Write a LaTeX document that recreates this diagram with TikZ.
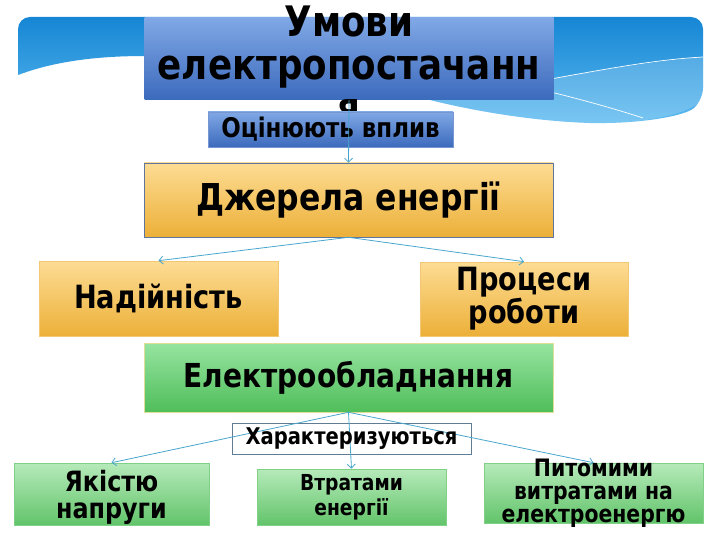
\documentclass[tikz,border=0pt]{standalone}
\usepackage{fontspec}
\setmainfont{DejaVu Sans}[FakeStretch=0.85]
\usetikzlibrary{arrows.meta}

\definecolor{bannertop}{RGB}{22,134,212}
\definecolor{bannerbot}{RGB}{92,186,240}
\definecolor{bluetop}{RGB}{128,168,230}
\definecolor{bluebot}{RGB}{60,106,188}
\definecolor{orangetop}{RGB}{253,220,148}
\definecolor{orangebot}{RGB}{236,176,56}
\definecolor{greentop}{RGB}{150,228,160}
\definecolor{greenbot}{RGB}{80,190,90}
\definecolor{lgreentop}{RGB}{182,234,186}
\definecolor{lgreenbot}{RGB}{98,196,106}
\definecolor{linkblue}{RGB}{72,166,204}
\definecolor{framegray}{RGB}{96,124,146}

\newcommand{\boxfont}[2]{\bfseries\fontsize{#1}{#2}\selectfont}

\begin{document}
\begin{tikzpicture}[x=1pt, y=-1pt,
    box/.style={rectangle, inner sep=0pt, align=center},
    bluebox/.style={box, top color=bluetop, bottom color=bluebot},
    orangebox/.style={box, top color=orangetop, bottom color=orangebot, draw=orangebot!70!white, line width=.6pt},
    greenbox/.style={box, top color=greentop, bottom color=greenbot, draw=orangetop!70!greentop, line width=.6pt},
    lgreenbox/.style={box, top color=lgreentop, bottom color=lgreenbot, draw=lgreenbot!80!white, line width=.6pt},
    link/.style={draw=linkblue, line width=.8pt, -{Straight Barb[length=4pt,width=8pt]}},
  ]
    \useasboundingbox (0,0) rectangle (720,540);

    % banner
    \path[shade, top color=bannertop, bottom color=bannerbot]
    (18,75) {[rounded corners=12pt] -- (18,17) -- (703,17) -- (703,100)}
    .. controls (685,116) and (640,124) .. (590,123)
    .. controls (530,121) and (470,110) .. (430,100)
    .. controls (330,75) and (220,56) .. (145,56)
    .. controls (90,56) and (50,63) .. (18,75) -- cycle;
    \path[fill=white, opacity=.18]
    (430,100) .. controls (480,92) and (620,64) .. (703,57) -- (703,100)
    .. controls (685,116) and (640,124) .. (590,123)
    .. controls (530,121) and (470,110) .. (430,100) -- cycle;
    \draw[white, line width=.7pt] (480,92) .. controls (600,70) and (650,60) .. (703,57);
    \draw[white, line width=.7pt] (470,74) .. controls (540,88) and (600,104) .. (643,118);

    % title
    \node[bluebox, minimum width=409, minimum height=82] (title) at (349,59) {};
    \node[box, font=\boxfont{42}{43}] (titletext) at (349,64) {Умови\\електропостачанн\\я};
    \node[bluebox, draw=bluebot!70!white, line width=.6pt, minimum width=245, minimum height=35,
      font=\boxfont{27}{27}] (assess) at (330.5,129.5) {Оцінюють вплив};

    % energy sources
    \node[orangebox, draw=bluebot!50!gray, minimum width=409, minimum height=74,
      font=\boxfont{37}{37}] (sources) at (348.5,200) {Джерела енергії};
    \node[orangebox, minimum width=239, minimum height=75,
      font=\boxfont{32}{32}] (reliab) at (158.5,298.5) {Надійність};
    \node[orangebox, minimum width=208, minimum height=74,
      font=\boxfont{32}{30}] (process) at (524,299) {Процеси\\роботи};

    % equipment
    \node[greenbox, minimum width=409, minimum height=69,
      font=\boxfont{33}{33}] (equip) at (348.5,377.5) {Електрообладнання};
    \node[box, fill=white, draw=framegray, line width=.6pt, minimum width=239, minimum height=31]
      (charact) at (351.5,438.5) {};
    \node[lgreenbox, minimum width=195, minimum height=62] (quality) at (111.5,494) {};
    \node[lgreenbox, minimum width=189, minimum height=56,
      font=\boxfont{22}{25}] (losses) at (351.5,497) {Втратами\\енергії};
    \node[lgreenbox, minimum width=219, minimum height=60] (specific) at (593.5,493) {};

    % links
    \draw[link] (title.south) -- (sources.north);
    \draw[link] (sources.south) -- (reliab.north);
    \draw[link] (sources.south) -- (process.north);
    \draw[link] (equip.south) -- (quality.north);
    \draw[link] (equip.south) -- (losses.north);
    \draw[link] (equip.south) -- (specific.north);

    \node[box, font=\boxfont{23}{23}] (chartext) at (charact.center) {Характеризуються};
    \node[box, font=\boxfont{28}{27}] (qualtext) at (111.5,497) {Якістю\\напруги};
    \node[box, font=\boxfont{24}{23}] (spectext) at (specific.center) {Питомими\\витратами на\\електроенергю};

  \end{tikzpicture}
\end{document}
